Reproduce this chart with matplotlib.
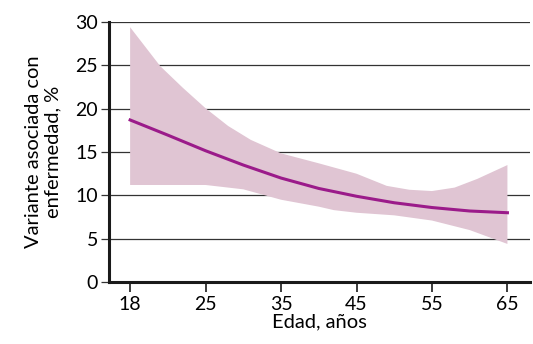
import matplotlib.pyplot as plt

plt.rcParams['font.family'] = ['Lato', 'DejaVu Sans']

age_labels = ['18', '25', '35', '45', '55', '65']

# smoothed estimate (x in tick-position units, ticks are evenly spaced)
line_x = [0, 0.5, 1, 1.5, 2, 2.5, 3, 3.5, 4, 4.5, 5]
line_y = [18.7, 16.95, 15.15, 13.5, 12.0, 10.8, 9.9, 9.15, 8.6, 8.2, 8.0]

upper_x = [0, 0.4, 0.7, 1, 1.3, 1.6, 2, 2.5, 3, 3.2, 3.4, 3.7, 4, 4.3, 4.6, 5]
upper_y = [29.4, 24.9, 22.4, 20.05, 18.0, 16.4, 14.85, 13.7, 12.5, 11.8, 11.1, 10.65, 10.5, 10.9, 11.9, 13.5]

lower_x = [0, 1, 1.5, 2, 2.5, 2.7, 3, 3.5, 4, 4.5, 5]
lower_y = [11.2, 11.2, 10.7, 9.5, 8.7, 8.3, 8.0, 7.7, 7.1, 6.0, 4.4]

fig = plt.figure(figsize=(5.33, 3.44), dpi=100)
ax = fig.add_axes([0.2045, 0.18, 0.79, 0.756])

band_x = upper_x + lower_x[::-1]
band_y = upper_y + lower_y[::-1]
ax.fill(band_x, band_y, color='#e0c5d3', linewidth=0, zorder=2)
ax.plot(line_x, line_y, color='#9b1b8a', linewidth=2.2, zorder=3)

ax.set_xlim(-0.28, 5.3)
ax.set_ylim(0, 30)
ax.set_xticks(range(len(age_labels)))
ax.set_xticklabels(age_labels)
ax.set_yticks(range(0, 31, 5))

ax.yaxis.grid(True, color='#333333', linewidth=0.9, zorder=1)
ax.set_axisbelow(True)
for s in ['top', 'right']:
    ax.spines[s].set_visible(False)
for s in ['left', 'bottom']:
    ax.spines[s].set_linewidth(2.2)
    ax.spines[s].set_color('#1a1a1a')

ax.tick_params(axis='y', length=6, width=0.9, color='#333333', labelsize=14, pad=2)
ax.tick_params(axis='x', length=7, width=1.2, color='#1a1a1a', labelsize=14, pad=3)

ax.set_xlabel('Edad, años', fontsize=14.5, labelpad=0)
ax.set_ylabel('Variante asociada con\nenfermedad, %', fontsize=14.5, labelpad=10,
              linespacing=1.15)

fig.savefig('out.png')
